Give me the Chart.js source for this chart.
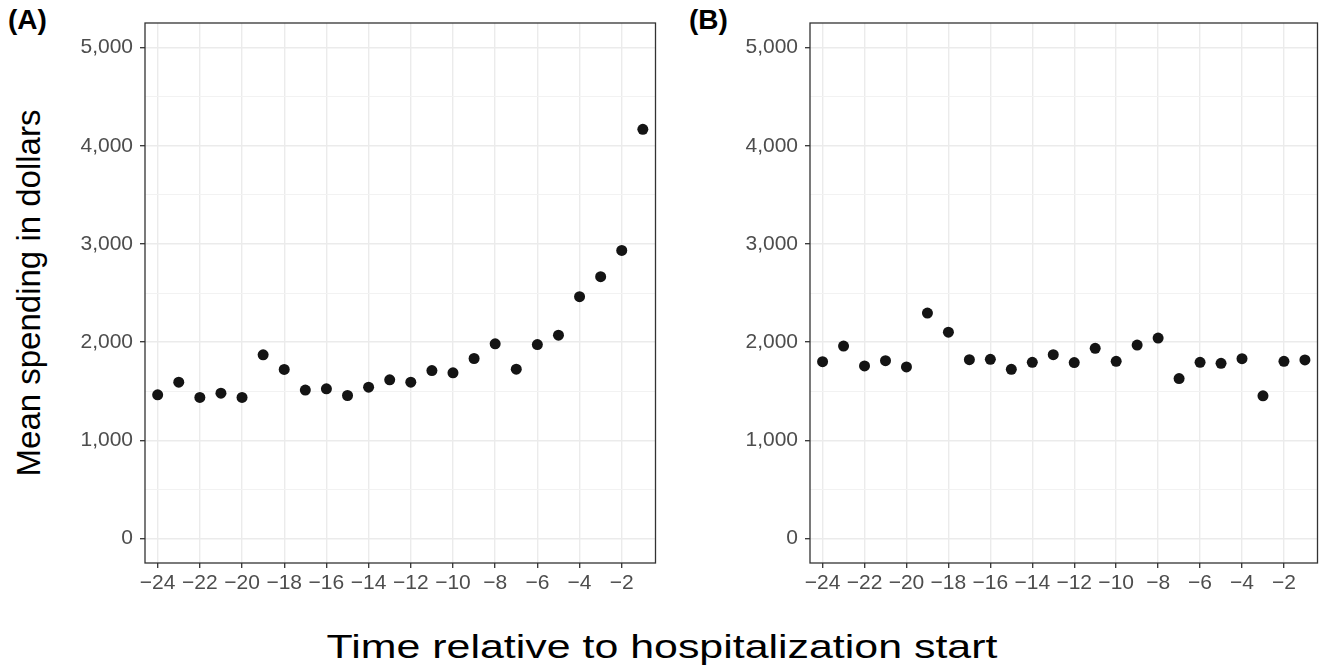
<!DOCTYPE html>
<html>
<head>
<meta charset="utf-8">
<script src="https://cdn.jsdelivr.net/npm/chart.js@4/dist/chart.umd.min.js"></script>
<style>
  html, body { margin: 0; padding: 0; background: #ffffff; }
  body { width: 1323px; height: 668px; position: relative; overflow: hidden;
         font-family: "Liberation Sans", Arial, Helvetica, sans-serif; }
  .cv { position: absolute; top: 0; }
  #cA { left: 0; }
  #cB { left: 665px; }
  .panel { position: absolute; font-weight: bold; font-size: 28px; color: #000; line-height: 1; }
  #ytitle { position: absolute; left: 28px; top: 293px; font-size: 33px; color: #000; white-space: nowrap;
            transform: translate(-50%, -50%) rotate(-90deg); line-height: 1; }
  #xtitle { position: absolute; left: 662px; top: 630px; font-size: 33px;
            color: #000; line-height: 1; white-space: nowrap;
            transform: translateX(-50%) scaleX(1.3); transform-origin: 50% 50%; }
</style>
</head>
<body>
<div class="panel" style="left:8px; top:6px;">(A)</div>
<div class="panel" style="left:689px; top:6px;">(B)</div>
<div id="ytitle">Mean spending in dollars</div>
<div id="xtitle">Time relative to hospitalization start</div>
<canvas id="cA" class="cv" width="661" height="668"></canvas>
<canvas id="cB" class="cv" width="658" height="668"></canvas>
<script>
// ---- data ----
const months = [-24, -23, -22, -21, -20, -19, -18, -17, -16, -15, -14, -13,
                -12, -11, -10, -9, -8, -7, -6, -5, -4, -3, -2, -1];
const spendingA = [1463, 1592, 1436, 1480, 1436, 1870, 1721, 1511, 1524, 1456, 1541, 1616,
                   1592, 1710, 1687, 1833, 1982, 1724, 1975, 2070, 2462, 2666, 2934, 4167];
const spendingB = [1801, 1959, 1757, 1811, 1747, 2296, 2101, 1821, 1824, 1723, 1794, 1872,
                   1791, 1936, 1804, 1970, 2041, 1628, 1794, 1784, 1831, 1453, 1804, 1818];
const xTicks = [-24, -22, -20, -18, -16, -14, -12, -10, -8, -6, -4, -2];
const yGrid  = [0, 500, 1000, 1500, 2000, 2500, 3000, 3500, 4000, 4500, 5000];

const TICK_FONT = { family: '"Liberation Sans", Arial, Helvetica, sans-serif', size: 21 };

const framePlugin = {
  id: 'frame',
  afterDraw(chart) {
    const a = chart.chartArea, ctx = chart.ctx;
    ctx.save();
    ctx.strokeStyle = '#333333';
    ctx.lineWidth = 1.3;
    ctx.strokeRect(a.left, a.top, a.right - a.left, a.bottom - a.top);
    ctx.restore();
  }
};

function makeChart(id, values, padRight) {
  const pts = months.map((m, i) => ({ x: m, y: values[i] }));
  return new Chart(document.getElementById(id), {
    type: 'scatter',
    data: { datasets: [{ data: pts, pointRadius: 5.5, pointHoverRadius: 5.5,
                         backgroundColor: '#141414', borderWidth: 0 }] },
    options: {
      responsive: false, animation: false, events: [],
      layout: { padding: { left: 0, top: 23, right: padRight, bottom: 65 } },
      plugins: { legend: { display: false }, tooltip: { enabled: false } },
      scales: {
        x: {
          type: 'linear', min: -24.6, max: -0.4,
          afterBuildTicks: s => { s.ticks = xTicks.map(v => ({ value: v })); },
          afterFit: s => { s.height = 40; },
          border: { display: false },
          grid: { color: '#ebebeb', lineWidth: 1.4, drawTicks: true, tickLength: 5,
                  tickColor: '#333333', tickWidth: 1.3 },
          ticks: { font: TICK_FONT, color: '#4d4d4d', padding: 3, maxRotation: 0, autoSkip: false,
                   callback: v => (v < 0 ? '\u2212' + Math.abs(v) : String(v)) }
        },
        y: {
          type: 'linear', min: -250, max: 5250,
          afterBuildTicks: s => { s.ticks = yGrid.map(v => ({ value: v })); },
          afterFit: s => { s.width = 145; },
          border: { display: false },
          grid: { color: c => (c.tick && c.tick.value % 1000 === 0 ? '#ebebeb' : '#f2f2f2'),
                  lineWidth: c => (c.tick && c.tick.value % 1000 === 0 ? 1.4 : 1.0),
                  drawTicks: true, tickLength: 5, tickWidth: 1.3,
                  tickColor: c => (c.tick && c.tick.value % 1000 === 0 ? '#333333' : 'rgba(0,0,0,0)') },
          ticks: { font: TICK_FONT, color: '#4d4d4d', padding: 7, autoSkip: false,
                   callback: v => (v % 1000 === 0 ? v.toLocaleString('en-US') : '') }
        }
      }
    },
    plugins: [framePlugin]
  });
}

makeChart('cA', spendingA, 4);
makeChart('cB', spendingB, 2);
</script>
</body>
</html>
